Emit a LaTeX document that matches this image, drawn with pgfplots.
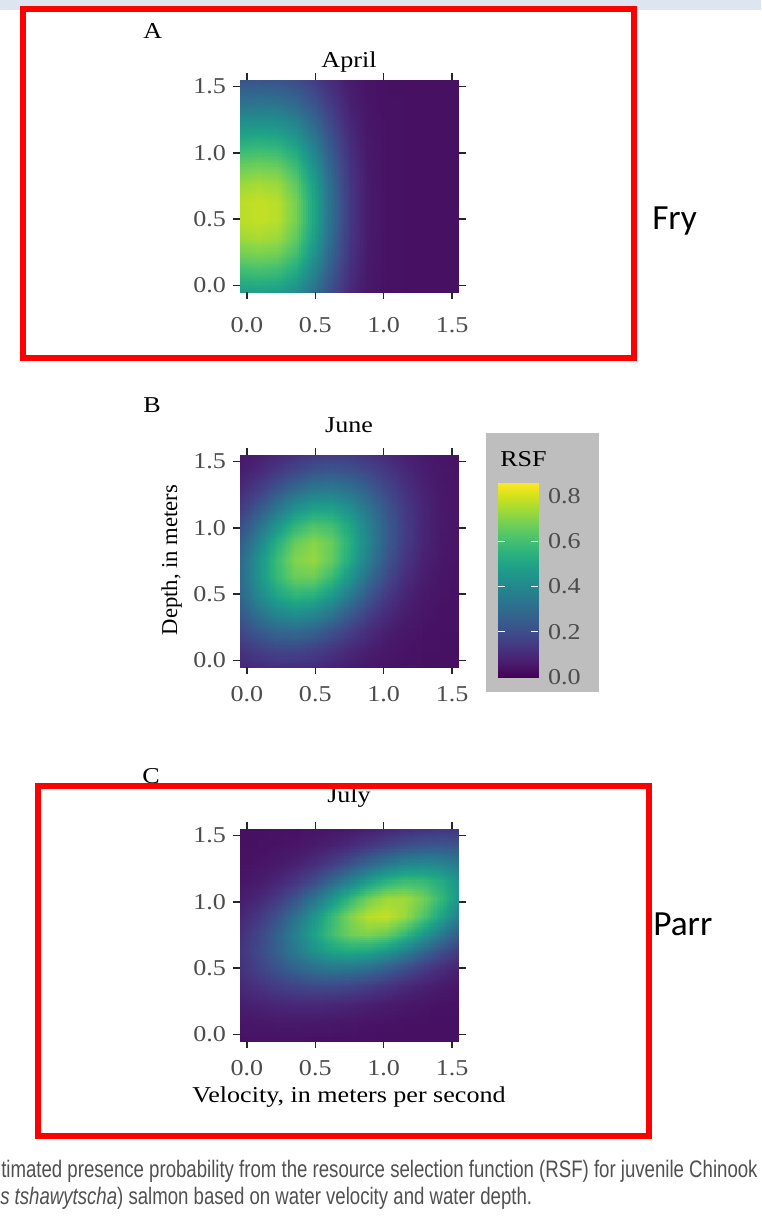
\documentclass[border=0pt]{standalone}
\usepackage{pgfplots}
\pgfplotsset{compat=1.18}
\usepgfplotslibrary{patchplots}
\usepackage{fontspec}
\setmainfont{Liberation Serif}[FakeStretch=1.15]
\newfontfamily\plainserif{Liberation Serif}
\newfontfamily\calibri{Carlito}
\newfontfamily\capfont{Liberation Sans}[FakeStretch=0.78]
\definecolor{topblue}{RGB}{220,229,240}
\definecolor{cbgray}{RGB}{190,190,190}
\definecolor{capgray}{RGB}{80,80,80}
\newcommand{\tickfont}{\fontsize{17}{20}\selectfont}
\pgfplotsset{rsf/.style={
  scale only axis, width=164.25pt, height=159pt,
  xmin=-0.05,xmax=1.55,ymin=-0.05,ymax=1.55,
  xtick={0,0.5,1,1.5}, ytick={0,0.5,1,1.5},
  tick align=outside, major tick length=5pt,
  tick style={color=black!85, line width=1pt},
  axis line style={draw=none},
  axis on top,
  colormap name=viridis,
  point meta min=0, point meta max=0.857,
  /pgf/number format/fixed, /pgf/number format/fixed zerofill,
  /pgf/number format/precision=1, /pgf/number format/assume math mode=true,
  ticklabel style={font=\tickfont, text=black!70},
  xticklabel style={yshift=-6pt},
  yticklabel style={xshift=-2pt},
},
heat/.style={surf, shader=interp, patch type=bilinear, mesh/cols=13, point meta=explicit}}
\begin{document}
\begin{tikzpicture}[x=0.75pt,y=-0.75pt]
\useasboundingbox (0,0) rectangle (761,1224);
\clip (0,0) rectangle (761,1224);
\fill[white] (0,0) rectangle (761,1224);
\fill[topblue] (0,0) rectangle (761,10);
\fill[cbgray] (486,433) rectangle (599,692);

% ---------- A April
\begin{axis}[rsf, at={(180pt,-219pt)}, anchor=south west, xticklabel style={yshift=-4.5pt}]
\addplot[heat] table[row sep=\\, meta=c]{
x y c\\
-0.05 -0.05 0.480\\ 0.0833 -0.05 0.488\\ 0.2167 -0.05 0.480\\ 0.35 -0.05 0.428\\ 0.4833 -0.05 0.324\\ 0.6167 -0.05 0.196\\ 0.75 -0.05 0.098\\ 0.8833 -0.05 0.051\\ 1.0167 -0.05 0.038\\ 1.15 -0.05 0.035\\ 1.2833 -0.05 0.035\\ 1.4167 -0.05 0.035\\ 1.55 -0.05 0.035\\
-0.05 0.0833 0.578\\ 0.0833 0.0833 0.588\\ 0.2167 0.0833 0.577\\ 0.35 0.0833 0.515\\ 0.4833 0.0833 0.387\\ 0.6167 0.0833 0.232\\ 0.75 0.0833 0.112\\ 0.8833 0.0833 0.055\\ 1.0167 0.0833 0.038\\ 1.15 0.0833 0.035\\ 1.2833 0.0833 0.035\\ 1.4167 0.0833 0.035\\ 1.55 0.0833 0.035\\
-0.05 0.2167 0.666\\ 0.0833 0.2167 0.677\\ 0.2167 0.2167 0.665\\ 0.35 0.2167 0.592\\ 0.4833 0.2167 0.444\\ 0.6167 0.2167 0.264\\ 0.75 0.2167 0.125\\ 0.8833 0.2167 0.058\\ 1.0167 0.2167 0.039\\ 1.15 0.2167 0.035\\ 1.2833 0.2167 0.035\\ 1.4167 0.2167 0.035\\ 1.55 0.2167 0.035\\
-0.05 0.35 0.732\\ 0.0833 0.35 0.745\\ 0.2167 0.35 0.731\\ 0.35 0.35 0.651\\ 0.4833 0.35 0.487\\ 0.6167 0.35 0.288\\ 0.75 0.35 0.134\\ 0.8833 0.35 0.060\\ 1.0167 0.35 0.039\\ 1.15 0.35 0.035\\ 1.2833 0.35 0.035\\ 1.4167 0.35 0.035\\ 1.55 0.35 0.035\\
-0.05 0.4833 0.768\\ 0.0833 0.4833 0.781\\ 0.2167 0.4833 0.767\\ 0.35 0.4833 0.682\\ 0.4833 0.4833 0.510\\ 0.6167 0.4833 0.300\\ 0.75 0.4833 0.139\\ 0.8833 0.4833 0.062\\ 1.0167 0.4833 0.039\\ 1.15 0.4833 0.035\\ 1.2833 0.4833 0.035\\ 1.4167 0.4833 0.035\\ 1.55 0.4833 0.035\\
-0.05 0.6167 0.768\\ 0.0833 0.6167 0.781\\ 0.2167 0.6167 0.767\\ 0.35 0.6167 0.682\\ 0.4833 0.6167 0.510\\ 0.6167 0.6167 0.300\\ 0.75 0.6167 0.139\\ 0.8833 0.6167 0.062\\ 1.0167 0.6167 0.039\\ 1.15 0.6167 0.035\\ 1.2833 0.6167 0.035\\ 1.4167 0.6167 0.035\\ 1.55 0.6167 0.035\\
-0.05 0.75 0.732\\ 0.0833 0.75 0.745\\ 0.2167 0.75 0.731\\ 0.35 0.75 0.651\\ 0.4833 0.75 0.487\\ 0.6167 0.75 0.288\\ 0.75 0.75 0.134\\ 0.8833 0.75 0.060\\ 1.0167 0.75 0.039\\ 1.15 0.75 0.035\\ 1.2833 0.75 0.035\\ 1.4167 0.75 0.035\\ 1.55 0.75 0.035\\
-0.05 0.8833 0.666\\ 0.0833 0.8833 0.677\\ 0.2167 0.8833 0.665\\ 0.35 0.8833 0.592\\ 0.4833 0.8833 0.444\\ 0.6167 0.8833 0.264\\ 0.75 0.8833 0.125\\ 0.8833 0.8833 0.058\\ 1.0167 0.8833 0.039\\ 1.15 0.8833 0.035\\ 1.2833 0.8833 0.035\\ 1.4167 0.8833 0.035\\ 1.55 0.8833 0.035\\
-0.05 1.0167 0.578\\ 0.0833 1.0167 0.588\\ 0.2167 1.0167 0.577\\ 0.35 1.0167 0.515\\ 0.4833 1.0167 0.387\\ 0.6167 1.0167 0.232\\ 0.75 1.0167 0.112\\ 0.8833 1.0167 0.055\\ 1.0167 1.0167 0.038\\ 1.15 1.0167 0.035\\ 1.2833 1.0167 0.035\\ 1.4167 1.0167 0.035\\ 1.55 1.0167 0.035\\
-0.05 1.15 0.480\\ 0.0833 1.15 0.488\\ 0.2167 1.15 0.480\\ 0.35 1.15 0.428\\ 0.4833 1.15 0.324\\ 0.6167 1.15 0.196\\ 0.75 1.15 0.098\\ 0.8833 1.15 0.051\\ 1.0167 1.15 0.038\\ 1.15 1.15 0.035\\ 1.2833 1.15 0.035\\ 1.4167 1.15 0.035\\ 1.55 1.15 0.035\\
-0.05 1.2833 0.382\\ 0.0833 1.2833 0.388\\ 0.2167 1.2833 0.382\\ 0.35 1.2833 0.342\\ 0.4833 1.2833 0.260\\ 0.6167 1.2833 0.161\\ 0.75 1.2833 0.084\\ 0.8833 1.2833 0.048\\ 1.0167 1.2833 0.037\\ 1.15 1.2833 0.035\\ 1.2833 1.2833 0.035\\ 1.4167 1.2833 0.035\\ 1.55 1.2833 0.035\\
-0.05 1.4167 0.292\\ 0.0833 1.4167 0.297\\ 0.2167 1.4167 0.292\\ 0.35 1.4167 0.262\\ 0.4833 1.4167 0.202\\ 0.6167 1.4167 0.128\\ 0.75 1.4167 0.072\\ 0.8833 1.4167 0.044\\ 1.0167 1.4167 0.036\\ 1.15 1.4167 0.035\\ 1.2833 1.4167 0.035\\ 1.4167 1.4167 0.035\\ 1.55 1.4167 0.035\\
-0.05 1.55 0.217\\ 0.0833 1.55 0.220\\ 0.2167 1.55 0.217\\ 0.35 1.55 0.196\\ 0.4833 1.55 0.153\\ 0.6167 1.55 0.101\\ 0.75 1.55 0.061\\ 0.8833 1.55 0.042\\ 1.0167 1.55 0.036\\ 1.15 1.55 0.035\\ 1.2833 1.55 0.035\\ 1.4167 1.55 0.035\\ 1.55 1.55 0.035\\
};
\end{axis}

% ---------- B June
\begin{axis}[rsf, at={(180pt,-500.25pt)}, anchor=south west]
\addplot[heat] table[row sep=\\, meta=c]{
x y c\\
-0.05 -0.05 0.092\\ 0.0833 -0.05 0.108\\ 0.2167 -0.05 0.118\\ 0.35 -0.05 0.116\\ 0.4833 -0.05 0.103\\ 0.6167 -0.05 0.085\\ 0.75 -0.05 0.067\\ 0.8833 -0.05 0.053\\ 1.0167 -0.05 0.043\\ 1.15 -0.05 0.039\\ 1.2833 -0.05 0.036\\ 1.4167 -0.05 0.035\\ 1.55 -0.05 0.035\\
-0.05 0.0833 0.132\\ 0.0833 0.0833 0.165\\ 0.2167 0.0833 0.187\\ 0.35 0.0833 0.189\\ 0.4833 0.0833 0.169\\ 0.6167 0.0833 0.137\\ 0.75 0.0833 0.102\\ 0.8833 0.0833 0.074\\ 1.0167 0.0833 0.054\\ 1.15 0.0833 0.043\\ 1.2833 0.0833 0.038\\ 1.4167 0.0833 0.036\\ 1.55 0.0833 0.035\\
-0.05 0.2167 0.183\\ 0.0833 0.2167 0.241\\ 0.2167 0.2167 0.284\\ 0.35 0.2167 0.295\\ 0.4833 0.2167 0.271\\ 0.6167 0.2167 0.220\\ 0.75 0.2167 0.161\\ 0.8833 0.2167 0.110\\ 1.0167 0.2167 0.073\\ 1.15 0.2167 0.052\\ 1.2833 0.2167 0.042\\ 1.4167 0.2167 0.037\\ 1.55 0.2167 0.036\\
-0.05 0.35 0.237\\ 0.0833 0.35 0.325\\ 0.2167 0.35 0.397\\ 0.35 0.35 0.426\\ 0.4833 0.35 0.402\\ 0.6167 0.35 0.334\\ 0.75 0.35 0.246\\ 0.8833 0.35 0.164\\ 1.0167 0.35 0.104\\ 1.15 0.35 0.067\\ 1.2833 0.35 0.048\\ 1.4167 0.35 0.039\\ 1.55 0.35 0.036\\
-0.05 0.4833 0.279\\ 0.0833 0.4833 0.398\\ 0.2167 0.4833 0.503\\ 0.35 0.4833 0.558\\ 0.4833 0.4833 0.543\\ 0.6167 0.4833 0.463\\ 0.75 0.4833 0.348\\ 0.8833 0.4833 0.233\\ 1.0167 0.4833 0.144\\ 1.15 0.4833 0.087\\ 1.2833 0.4833 0.056\\ 1.4167 0.4833 0.043\\ 1.55 0.4833 0.037\\
-0.05 0.6167 0.297\\ 0.0833 0.6167 0.438\\ 0.2167 0.6167 0.573\\ 0.35 0.6167 0.658\\ 0.4833 0.6167 0.661\\ 0.6167 0.6167 0.580\\ 0.75 0.6167 0.447\\ 0.8833 0.6167 0.305\\ 1.0167 0.6167 0.189\\ 1.15 0.6167 0.111\\ 1.2833 0.6167 0.067\\ 1.4167 0.6167 0.047\\ 1.55 0.6167 0.039\\
-0.05 0.75 0.285\\ 0.0833 0.75 0.434\\ 0.2167 0.75 0.586\\ 0.35 0.75 0.695\\ 0.4833 0.75 0.721\\ 0.6167 0.75 0.653\\ 0.75 0.75 0.518\\ 0.8833 0.75 0.363\\ 1.0167 0.75 0.228\\ 1.15 0.75 0.133\\ 1.2833 0.75 0.079\\ 1.4167 0.75 0.052\\ 1.55 0.75 0.041\\
-0.05 0.8833 0.248\\ 0.0833 0.8833 0.385\\ 0.2167 0.8833 0.536\\ 0.35 0.8833 0.656\\ 0.4833 0.8833 0.703\\ 0.6167 0.8833 0.658\\ 0.75 0.8833 0.539\\ 0.8833 0.8833 0.389\\ 1.0167 0.8833 0.250\\ 1.15 0.8833 0.149\\ 1.2833 0.8833 0.087\\ 1.4167 0.8833 0.056\\ 1.55 0.8833 0.042\\
-0.05 1.0167 0.196\\ 0.0833 1.0167 0.309\\ 0.2167 1.0167 0.440\\ 0.35 1.0167 0.555\\ 0.4833 1.0167 0.613\\ 0.6167 1.0167 0.593\\ 0.75 1.0167 0.502\\ 0.8833 1.0167 0.374\\ 1.0167 1.0167 0.249\\ 1.15 1.0167 0.152\\ 1.2833 1.0167 0.090\\ 1.4167 1.0167 0.058\\ 1.55 1.0167 0.043\\
-0.05 1.15 0.143\\ 0.0833 1.15 0.226\\ 0.2167 1.15 0.327\\ 0.35 1.15 0.422\\ 0.4833 1.15 0.480\\ 0.6167 1.15 0.480\\ 0.75 1.15 0.421\\ 0.8833 1.15 0.325\\ 1.0167 1.15 0.224\\ 1.15 1.15 0.142\\ 1.2833 1.15 0.087\\ 1.4167 1.15 0.057\\ 1.55 1.15 0.043\\
-0.05 1.2833 0.100\\ 0.0833 1.2833 0.153\\ 0.2167 1.2833 0.222\\ 0.35 1.2833 0.291\\ 0.4833 1.2833 0.340\\ 0.6167 1.2833 0.350\\ 0.75 1.2833 0.318\\ 0.8833 1.2833 0.255\\ 1.0167 1.2833 0.183\\ 1.15 1.2833 0.122\\ 1.2833 1.2833 0.079\\ 1.4167 1.2833 0.054\\ 1.55 1.2833 0.042\\
-0.05 1.4167 0.069\\ 0.0833 1.4167 0.100\\ 0.2167 1.4167 0.141\\ 0.35 1.4167 0.186\\ 0.4833 1.4167 0.221\\ 0.6167 1.4167 0.234\\ 0.75 1.4167 0.219\\ 0.8833 1.4167 0.183\\ 1.0167 1.4167 0.139\\ 1.15 1.4167 0.098\\ 1.2833 1.4167 0.068\\ 1.4167 1.4167 0.050\\ 1.55 1.4167 0.041\\
-0.05 1.55 0.051\\ 0.0833 1.55 0.067\\ 0.2167 1.55 0.089\\ 0.35 1.55 0.114\\ 0.4833 1.55 0.136\\ 0.6167 1.55 0.146\\ 0.75 1.55 0.142\\ 0.8833 1.55 0.124\\ 1.0167 1.55 0.099\\ 1.15 1.55 0.075\\ 1.2833 1.55 0.057\\ 1.4167 1.55 0.045\\ 1.55 1.55 0.039\\
};
\end{axis}

% ---------- colour bar
\begin{axis}[at={(373.5pt,-507.75pt)}, anchor=south west,
  scale only axis, width=30pt, height=145.5pt,
  xmin=0, xmax=1, ymin=0, ymax=0.857, xtick=\empty,
  ytick={0.2,0.4,0.6}, extra y ticks={0,0.8},
  extra y tick style={major tick length=0pt},
  ytick pos=both, yticklabel pos=right,
  tick align=inside, major tick length=5pt,
  tick style={color=white, line width=0.9pt},
  axis line style={draw=none}, axis on top,
  colormap name=viridis, point meta min=0, point meta max=0.857,
  /pgf/number format/fixed, /pgf/number format/fixed zerofill,
  /pgf/number format/precision=1, /pgf/number format/assume math mode=true,
  yticklabel style={font=\tickfont, text=black!70, xshift=4pt}]
\addplot[surf, shader=interp, mesh/cols=2, point meta=explicit] table[row sep=\\, meta=c]{
x y c\\
0 0 0\\ 1 0 0\\
0 0.107 0.107\\ 1 0.107 0.107\\
0 0.214 0.214\\ 1 0.214 0.214\\
0 0.321 0.321\\ 1 0.321 0.321\\
0 0.428 0.428\\ 1 0.428 0.428\\
0 0.536 0.536\\ 1 0.536 0.536\\
0 0.643 0.643\\ 1 0.643 0.643\\
0 0.750 0.750\\ 1 0.750 0.750\\
0 0.857 0.857\\ 1 0.857 0.857\\
};
\end{axis}

% ---------- C July
\begin{axis}[rsf, at={(180pt,-780.75pt)}, anchor=south west]
\addplot[heat] table[row sep=\\, meta=c]{
x y c\\
-0.05 -0.05 0.040\\ 0.0833 -0.05 0.041\\ 0.2167 -0.05 0.041\\ 0.35 -0.05 0.041\\ 0.4833 -0.05 0.040\\ 0.6167 -0.05 0.039\\ 0.75 -0.05 0.038\\ 0.8833 -0.05 0.037\\ 1.0167 -0.05 0.036\\ 1.15 -0.05 0.035\\ 1.2833 -0.05 0.035\\ 1.4167 -0.05 0.035\\ 1.55 -0.05 0.035\\
-0.05 0.0833 0.050\\ 0.0833 0.0833 0.053\\ 0.2167 0.0833 0.056\\ 0.35 0.0833 0.056\\ 0.4833 0.0833 0.055\\ 0.6167 0.0833 0.053\\ 0.75 0.0833 0.049\\ 0.8833 0.0833 0.045\\ 1.0167 0.0833 0.042\\ 1.15 0.0833 0.039\\ 1.2833 0.0833 0.037\\ 1.4167 0.0833 0.036\\ 1.55 0.0833 0.035\\
-0.05 0.2167 0.068\\ 0.0833 0.2167 0.079\\ 0.2167 0.2167 0.089\\ 0.35 0.2167 0.095\\ 0.4833 0.2167 0.096\\ 0.6167 0.2167 0.092\\ 0.75 0.2167 0.084\\ 0.8833 0.2167 0.073\\ 1.0167 0.2167 0.062\\ 1.15 0.2167 0.053\\ 1.2833 0.2167 0.046\\ 1.4167 0.2167 0.041\\ 1.55 0.2167 0.038\\
-0.05 0.35 0.094\\ 0.0833 0.35 0.120\\ 0.2167 0.35 0.146\\ 0.35 0.35 0.168\\ 0.4833 0.35 0.180\\ 0.6167 0.35 0.180\\ 0.75 0.35 0.168\\ 0.8833 0.35 0.147\\ 1.0167 0.35 0.121\\ 1.15 0.35 0.095\\ 1.2833 0.35 0.074\\ 1.4167 0.35 0.058\\ 1.55 0.35 0.047\\
-0.05 0.4833 0.118\\ 0.0833 0.4833 0.162\\ 0.2167 0.4833 0.214\\ 0.35 0.4833 0.264\\ 0.4833 0.4833 0.304\\ 0.6167 0.4833 0.325\\ 0.75 0.4833 0.320\\ 0.8833 0.4833 0.292\\ 1.0167 0.4833 0.246\\ 1.15 0.4833 0.194\\ 1.2833 0.4833 0.145\\ 1.4167 0.4833 0.104\\ 1.55 0.4833 0.075\\
-0.05 0.6167 0.126\\ 0.0833 0.6167 0.185\\ 0.2167 0.6167 0.261\\ 0.35 0.6167 0.346\\ 0.4833 0.6167 0.428\\ 0.6167 0.6167 0.489\\ 0.75 0.6167 0.514\\ 0.8833 0.6167 0.498\\ 1.0167 0.6167 0.444\\ 1.15 0.6167 0.366\\ 1.2833 0.6167 0.280\\ 1.4167 0.6167 0.201\\ 1.55 0.6167 0.138\\
-0.05 0.75 0.113\\ 0.0833 0.75 0.174\\ 0.2167 0.75 0.259\\ 0.35 0.75 0.367\\ 0.4833 0.75 0.485\\ 0.6167 0.75 0.593\\ 0.75 0.75 0.667\\ 0.8833 0.75 0.691\\ 1.0167 0.75 0.658\\ 1.15 0.75 0.576\\ 1.2833 0.75 0.465\\ 1.4167 0.75 0.348\\ 1.55 0.75 0.243\\
-0.05 0.8833 0.088\\ 0.0833 0.8833 0.136\\ 0.2167 0.8833 0.210\\ 0.35 0.8833 0.313\\ 0.4833 0.8833 0.440\\ 0.6167 0.8833 0.574\\ 0.75 0.8833 0.691\\ 0.8833 0.8833 0.766\\ 1.0167 0.8833 0.780\\ 1.15 0.8833 0.729\\ 1.2833 0.8833 0.628\\ 1.4167 0.8833 0.498\\ 1.55 0.8833 0.365\\
-0.05 1.0167 0.063\\ 0.0833 1.0167 0.092\\ 0.2167 1.0167 0.142\\ 0.35 1.0167 0.218\\ 0.4833 1.0167 0.321\\ 0.6167 1.0167 0.443\\ 0.75 1.0167 0.569\\ 0.8833 1.0167 0.673\\ 1.0167 1.0167 0.734\\ 1.15 1.0167 0.735\\ 1.2833 1.0167 0.676\\ 1.4167 1.0167 0.572\\ 1.55 1.0167 0.447\\
-0.05 1.15 0.047\\ 0.0833 1.15 0.061\\ 0.2167 1.15 0.087\\ 0.35 1.15 0.129\\ 0.4833 1.15 0.193\\ 0.6167 1.15 0.278\\ 0.75 1.15 0.376\\ 0.8833 1.15 0.473\\ 1.0167 1.15 0.550\\ 1.15 1.15 0.588\\ 1.2833 1.15 0.579\\ 1.4167 1.15 0.525\\ 1.55 1.15 0.438\\
-0.05 1.2833 0.039\\ 0.0833 1.2833 0.044\\ 0.2167 1.2833 0.055\\ 0.35 1.2833 0.073\\ 0.4833 1.2833 0.104\\ 0.6167 1.2833 0.149\\ 0.75 1.2833 0.206\\ 0.8833 1.2833 0.271\\ 1.0167 1.2833 0.333\\ 1.15 1.2833 0.379\\ 1.2833 1.2833 0.398\\ 1.4167 1.2833 0.386\\ 1.55 1.2833 0.345\\
-0.05 1.4167 0.036\\ 0.0833 1.4167 0.037\\ 0.2167 1.4167 0.041\\ 0.35 1.4167 0.047\\ 0.4833 1.4167 0.059\\ 0.6167 1.4167 0.077\\ 0.75 1.4167 0.102\\ 0.8833 1.4167 0.135\\ 1.0167 1.4167 0.170\\ 1.15 1.4167 0.203\\ 1.2833 1.4167 0.225\\ 1.4167 1.4167 0.232\\ 1.55 1.4167 0.222\\
-0.05 1.55 0.035\\ 0.0833 1.55 0.035\\ 0.2167 1.55 0.036\\ 0.35 1.55 0.038\\ 0.4833 1.55 0.041\\ 0.6167 1.55 0.047\\ 0.75 1.55 0.056\\ 0.8833 1.55 0.068\\ 1.0167 1.55 0.083\\ 1.15 1.55 0.099\\ 1.2833 1.55 0.113\\ 1.4167 1.55 0.122\\ 1.55 1.55 0.124\\
};
\end{axis}

% ---------- texts
\begin{scope}[font=\tickfont]
\node[anchor=base west, inner sep=0] at (143,38) {A};
\node[anchor=base west, inner sep=0] at (143,412) {B};
\node[anchor=base west, inner sep=0] at (142,783) {C};
\node[anchor=base, inner sep=0] at (349,67) {April};
\node[anchor=base, inner sep=0] at (349,432) {June};
\node[anchor=base, inner sep=0] at (349,802) {July};
\node[anchor=base west, inner sep=0] at (500,466) {RSF};
\node[anchor=base, inner sep=0] at (349,1102) {Velocity, in meters per second};
\node[rotate=90, inner sep=0, anchor=base] at (177,560) {\plainserif\tickfont Depth, in meters};
\end{scope}

% ---------- slide annotations
\draw[red, line width=4.5pt] (22.5,8.7) rectangle (634,358);
\draw[red, line width=4.5pt] (37.7,786.3) rectangle (649,1135.7);
\node[anchor=base west, inner sep=0] at (652,229) {\calibri\fontsize{26.5}{30}\selectfont Fry};
\node[anchor=base west, inner sep=0] at (653,935) {\calibri\fontsize{26.5}{30}\selectfont Parr};
\begin{scope}[text=capgray]
\node[anchor=base west, inner sep=0] at (1,1177) {\capfont\fontsize{17.9}{20}\selectfont timated presence probability from the resource selection function (RSF) for juvenile Chinook};
\node[anchor=base west, inner sep=0] at (0,1204) {\capfont\fontsize{17.9}{20}\selectfont \textit{s tshawytscha}) salmon based on water velocity and water depth.};
\end{scope}
\end{tikzpicture}
\end{document}
